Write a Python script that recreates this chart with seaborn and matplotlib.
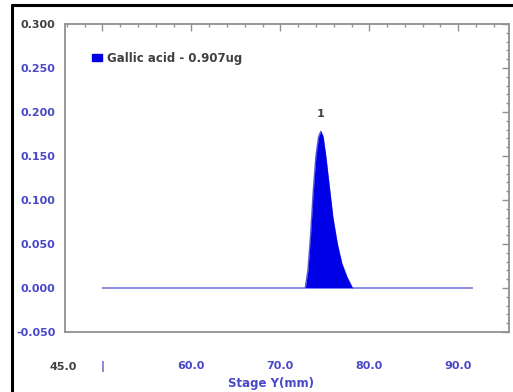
import matplotlib
matplotlib.use("Agg")
import matplotlib.pyplot as plt
from matplotlib.lines import Line2D
from matplotlib.patches import Patch
from matplotlib.ticker import MultipleLocator, FixedLocator
import seaborn as sns
import pandas as pd

# Densitometric scan: Stage Y position (mm) vs. signal
stage_y = [50.0, 72.8, 73.1, 73.4, 73.7, 74.0, 74.3, 74.55, 74.8, 75.1,
           75.5, 75.9, 76.4, 76.9, 77.5, 78.1, 91.6]
signal = [0.000, 0.000, 0.020, 0.060, 0.110, 0.150, 0.172, 0.178, 0.172, 0.150,
          0.115, 0.080, 0.050, 0.028, 0.012, 0.000, 0.000]
peak_label = "1"
peak_x = 74.55
peak_y = 0.178
series_name = "Gallic acid - 0.907ug"

x_ticks = [50, 60, 70, 80, 90]
x_tick_labels = ["|", "60.0", "70.0", "80.0", "90.0"]
y_ticks = [-0.05, 0.0, 0.05, 0.10, 0.15, 0.20, 0.25, 0.30]
y_tick_labels = ["-0.050", "0.000", "0.050", "0.100", "0.150", "0.200", "0.250", "0.300"]

df = pd.DataFrame({"Stage Y(mm)": stage_y, "signal": signal})

sns.set_style("white")
plt.rcParams["font.family"] = ["DejaVu Sans"]

tick_blue = "#4848c8"
dark = "#404040"
axis_gray = "#909090"
fill_blue = "#0000e6"
line_blue = "#5c5cd6"
fs = 8

fig = plt.figure(figsize=(5.13, 3.92), dpi=100)
ax = fig.add_axes([65 / 513, 1 - 332 / 392, (509 - 65) / 513, (332 - 24) / 392])

sns.lineplot(data=df, x="Stage Y(mm)", y="signal", ax=ax, color=line_blue,
             linewidth=1.0, sort=True)
ax.fill_between(df["Stage Y(mm)"], 0, df["signal"], color=fill_blue,
                linewidth=0, zorder=3)

ax.set_xlim(45.8, 95.7)
ax.set_ylim(-0.05, 0.30)

ax.xaxis.set_major_locator(FixedLocator(x_ticks))
ax.set_xticklabels(x_tick_labels)
ax.xaxis.set_minor_locator(MultipleLocator(2))
ax.yaxis.set_major_locator(FixedLocator(y_ticks))
ax.set_yticklabels(y_tick_labels)
ax.yaxis.set_minor_locator(MultipleLocator(0.01))

ax.tick_params(which="both", direction="in", top=True, right=True,
               color=axis_gray, width=1.0)
ax.tick_params(which="major", length=5)
ax.tick_params(which="minor", length=2.5)
ax.tick_params(axis="x", which="major", pad=21, labelsize=fs,
               labelcolor=tick_blue)
ax.tick_params(axis="y", which="major", pad=7, labelsize=fs,
               labelcolor=tick_blue)
for lbl in ax.get_xticklabels() + ax.get_yticklabels():
    lbl.set_fontweight("bold")
ax.get_yticklabels()[-1].set_color(dark)

for sp in ax.spines.values():
    sp.set_color(axis_gray)
    sp.set_linewidth(1.3)

# left-end axis value printed below the axis
ax.text(45.6, -0.05 - 35 / 880, "45.0", ha="center", va="center",
        fontsize=fs, fontweight="bold", color=dark, clip_on=False)

ax.set_xlabel("")
ax.set_ylabel("")
fig.text(271 / 513, 1 - 384 / 392, "Stage Y(mm)", ha="center", va="center",
         fontsize=8.5, fontweight="bold", color=tick_blue)

ax.annotate(peak_label, (peak_x, peak_y), xytext=(0, 9), textcoords="offset points",
            ha="center", va="bottom", fontsize=8, fontweight="bold", color=dark)

handle = Patch(facecolor=fill_blue, edgecolor=fill_blue)
leg = ax.legend([handle], [series_name], loc="upper left",
                bbox_to_anchor=(0.038, 0.945), frameon=False,
                handlelength=0.8, handleheight=0.45, handletextpad=0.4,
                prop={"size": 8.5, "weight": "bold"})
for t in leg.get_texts():
    t.set_color(dark)

# frame lines of the enclosing panel
fig.add_artist(Line2D([12 / 513, 12 / 513], [0, 1 - 5 / 392],
                      transform=fig.transFigure, color="black", linewidth=2.2))
fig.add_artist(Line2D([12 / 513, 1], [1 - 5 / 392, 1 - 5 / 392],
                      transform=fig.transFigure, color="black", linewidth=2.2))

fig.savefig("out.png", dpi=100, facecolor="white")
